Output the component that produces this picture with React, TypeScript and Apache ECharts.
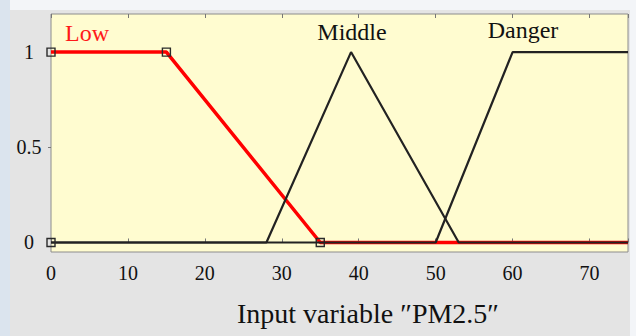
import React, { useEffect, useRef } from "react";
import * as echarts from "echarts";

// Membership functions of the fuzzy input "PM2.5"
const lowX = [0, 15, 35, 75];
const lowY = [1, 1, 0, 0];
const middleX = [0, 28, 39, 53, 75];
const middleY = [0, 0, 1, 0, 0];
const dangerX = [0, 50, 60, 75];
const dangerY = [0, 0, 1, 1];
// Breakpoints marked with small squares
const lowMarked = [0, 15, 35];
const middleMarked = [0];

const xTicks = [0, 10, 20, 30, 40, 50, 60, 70];
const yTicks = [0, 0.5, 1];

const SERIF = "'Liberation Serif', 'Times New Roman', serif";

function toData(xs: number[], ys: number[], marked: number[]) {
  return xs.map((x, i) =>
    marked.includes(x)
      ? { value: [x, ys[i]], symbol: "rect", symbolSize: 8 }
      : { value: [x, ys[i]], symbol: "none" }
  );
}

export default function App() {
  const ref = useRef<HTMLDivElement>(null);

  useEffect(() => {
    document.body.style.margin = "0";
    if (!ref.current) return;
    const chart = echarts.init(ref.current, undefined, { renderer: "svg" });

    const markerStyle = {
      color: "rgba(0,0,0,0)",
      borderColor: "#2a2a2a",
      borderWidth: 1.4,
    };

    chart.setOption({
      animation: false,
      graphic: [
        { type: "rect", z: -10, silent: true, shape: { x: 0, y: 0, width: 636, height: 336 }, style: { fill: "#f3f5f8" } },
        { type: "rect", z: -10, silent: true, shape: { x: 0, y: 0, width: 10, height: 336 }, style: { fill: "#dbe4ee" } },
        { type: "rect", z: -10, silent: true, shape: { x: 10, y: 10, width: 620, height: 326 }, style: { fill: "#e4e4e4" } },
        { type: "text", z: 100, x: 65, y: 33, style: { text: "Low", fill: "#ff1a1a", font: `24px ${SERIF}`, verticalAlign: "middle" } },
        { type: "text", z: 100, x: 352, y: 32, style: { text: "Middle", fill: "#111", font: `24px ${SERIF}`, align: "center", verticalAlign: "middle" } },
        { type: "text", z: 100, x: 523, y: 30, style: { text: "Danger", fill: "#111", font: `24px ${SERIF}`, align: "center", verticalAlign: "middle" } },
        { type: "text", z: 100, x: 368, y: 313, style: { text: "Input variable \u2033PM2.5\u2033", fill: "#111", font: `28px ${SERIF}`, align: "center", verticalAlign: "middle" } },
      ],
      grid: {
        left: 51,
        top: 14,
        right: 8,
        bottom: 84,
        show: true,
        backgroundColor: "#fffcd0",
        borderColor: "#8c8c8c",
        borderWidth: 1,
      },
      xAxis: [
        {
          type: "value",
          min: 0,
          max: 75,
          interval: 10,
          position: "bottom",
          axisLine: { show: false },
          splitLine: { show: false },
          axisTick: { show: true, inside: true, length: 4, lineStyle: { color: "#777" } },
          axisLabel: {
            margin: 11,
            color: "#111",
            fontFamily: SERIF,
            fontSize: 20,
            customValues: xTicks,
          },
        },
        {
          type: "value",
          min: 0,
          max: 75,
          interval: 10,
          position: "top",
          axisLine: { show: false },
          splitLine: { show: false },
          axisTick: { show: true, inside: true, length: 4, lineStyle: { color: "#777" } },
          axisLabel: { show: false },
        },
      ],
      yAxis: {
        type: "value",
        min: -0.05,
        max: 1.2,
        axisLine: { show: false },
        splitLine: { show: false },
        axisTick: { show: true, length: 3, customValues: [0.5], lineStyle: { color: "#777" } },
        axisLabel: {
          customValues: yTicks,
          align: "center",
          margin: 22,
          color: "#111",
          fontFamily: SERIF,
          fontSize: 20,
          formatter: (v: number) => String(v),
        },
      },
      series: [
        {
          name: "Low",
          type: "line",
          z: 2,
          data: toData(lowX, lowY, lowMarked),
          lineStyle: { color: "#ff0000", width: 3.5 },
          itemStyle: markerStyle,
        },
        {
          name: "Middle",
          type: "line",
          z: 3,
          data: toData(middleX, middleY, middleMarked),
          lineStyle: { color: "#222", width: 2.2 },
          itemStyle: markerStyle,
        },
        {
          name: "Danger",
          type: "line",
          z: 3,
          data: toData(dangerX, dangerY, []),
          lineStyle: { color: "#222", width: 2.2 },
          itemStyle: markerStyle,
        },
      ],
    });

    return () => chart.dispose();
  }, []);

  return (
    <div
      ref={ref}
      style={{ position: "absolute", left: 0, top: 0, width: 636, height: 336 }}
    />
  );
}
